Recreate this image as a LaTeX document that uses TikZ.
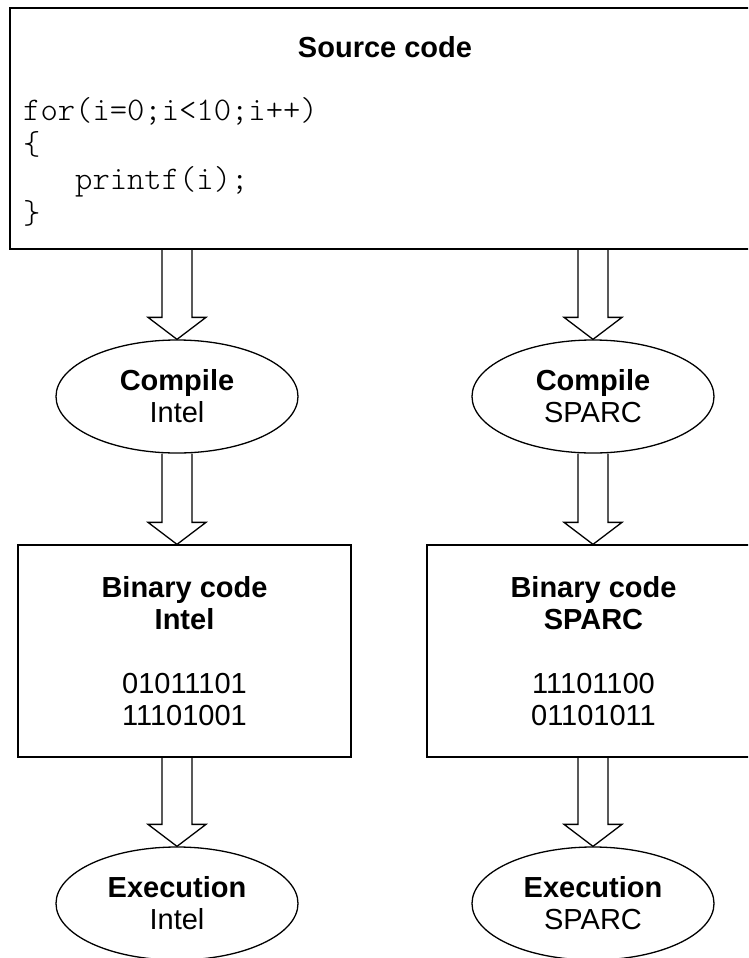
\documentclass[tikz,border=0pt]{standalone}
\usepackage{fontspec}
\setmainfont{Liberation Sans}
\newfontfamily\codefont{lmmonolt10-regular.otf}
\usetikzlibrary{shapes.geometric,calc}

\newcommand{\fatarrow}[2]{%
	\draw[fat] let \p1=(#1), \p2=(#2) in
		(\x1-15pt,\y1) -- (\x1-15pt,\y2+22pt) -- (\x1-29pt,\y2+22pt) -- (\x1,\y2)
		-- (\x1+29pt,\y2+22pt) -- (\x1+15pt,\y2+22pt) -- (\x1+15pt,\y1);}

\begin{document}
\begin{tikzpicture}
	[
	x=1pt, y=-1pt,
	every node/.style={inner sep=0pt, font=\fontsize{29}{32}\selectfont},
	box/.style={draw = black, line width=1.3pt, shape = rectangle, align=center},
	oval/.style={draw = black, line width=1.3pt, shape = ellipse, align=center,
		minimum width=242pt, minimum height=113pt},
	codeline/.style={anchor=base west, font=\codefont\fontsize{33}{34}\selectfont},
	fat/.style={draw = black, line width=1.3pt, line join=miter}
	]
	\useasboundingbox (0,0) rectangle (748,958);
	\clip (0,0) rectangle (748,958);

	% Source code box
	\node[box, minimum width=750pt, minimum height=241pt](src) at (385,128.5){};
	\node[anchor=base, font=\bfseries\fontsize{29}{32}\selectfont](srct) at (385,57.5){Source code};
	\node[codeline](l1) at (23,120){for(i=0;i<10;i++)};
	\node[codeline](l2) at (23,154.5){\{};
	\node[codeline](l3) at (23,189){\phantom{xxx}printf(i);};
	\node[codeline](l4) at (23,223.5){\}};

	% Left column: Intel
	\node[oval](cI) at (177,396.5){\textbf{Compile}\\Intel};
	\node[box, minimum width=333pt, minimum height=212pt](bI) at (184.5,651)
		{\textbf{Binary code}\\\textbf{Intel}\\[32pt]01011101\\11101001};
	\node[oval](eI) at (177,903.5){\textbf{Execution}\\Intel};

	% Right column: SPARC
	\node[oval](cS) at (593,396.5){\textbf{Compile}\\SPARC};
	\node[box, minimum width=333pt, minimum height=212pt](bS) at (593.5,651)
		{\textbf{Binary code}\\\textbf{SPARC}\\[32pt]11101100\\01101011};
	\node[oval](eS) at (593,903.5){\textbf{Execution}\\SPARC};

	\fatarrow{src.south -| cI}{cI.north}
	\fatarrow{cI.south}{bI.north -| cI}
	\fatarrow{bI.south -| cI}{eI.north}

	\fatarrow{src.south -| cS}{cS.north}
	\fatarrow{cS.south}{bS.north -| cS}
	\fatarrow{bS.south -| cS}{eS.north}
\end{tikzpicture}
\end{document}
